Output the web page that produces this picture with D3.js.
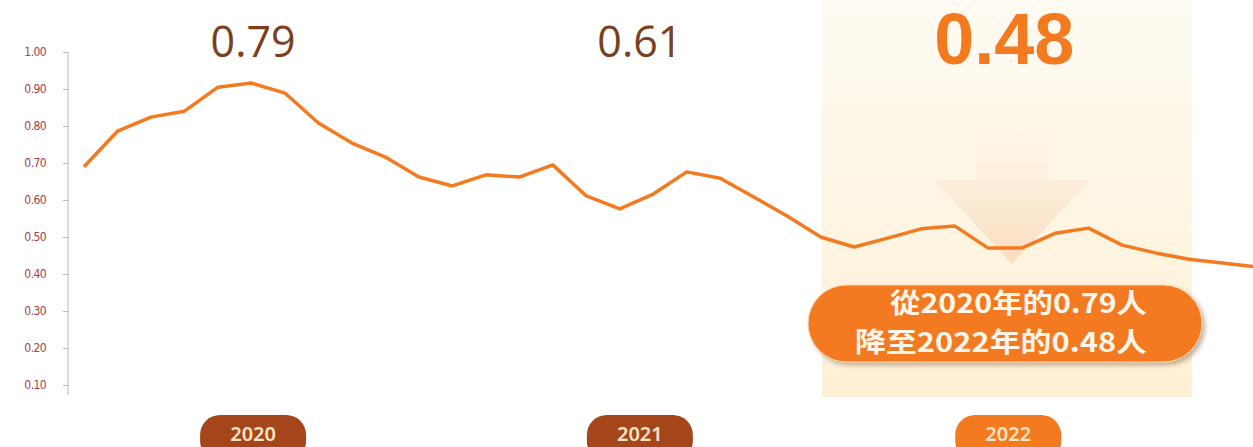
<!DOCTYPE html>
<html>
<head>
<meta charset="utf-8">
<script src="https://cdn.jsdelivr.net/npm/d3@7"></script>
<style>
  body { margin: 0; background: #fff; }
  svg { display: block; }
</style>
</head>
<body>
<svg width="1253" height="447"></svg>
<script>
// monthly values, 2020-01 .. 2022-12
var values = [0.69, 0.786, 0.824, 0.84, 0.905, 0.916, 0.889, 0.808, 0.754, 0.716, 0.662, 0.638,
              0.668, 0.662, 0.695, 0.611, 0.576, 0.616, 0.676, 0.659, 0.608, 0.557, 0.50, 0.473,
              0.497, 0.522, 0.53, 0.47, 0.47, 0.51, 0.524, 0.478, 0.457, 0.44, 0.43, 0.419];
var years = ["2020", "2021", "2022"];
var yearAvg = ["0.79", "0.61", "0.48"];
var yTicks = [0.1, 0.2, 0.3, 0.4, 0.5, 0.6, 0.7, 0.8, 0.9, 1.0];
var calloutLines = ["從2020年的0.79人", "降至2022年的0.48人"];

(function () {
  'use strict';
  var svg = d3.select('svg');
  var orange = "#f47a20";
  var brown = "#a4461a";

  var x = d3.scaleLinear().domain([0, values.length - 1]).range([84, 1256]);
  var y = d3.scaleLinear().domain([0, 1]).range([422, 52]);

  // where year badges sit (in month index units)
  var yearAt = [5.05, 16.6, 27.6];

  var defs = svg.append('defs');
  var hg = defs.append('linearGradient').attr('id', 'hl').attr('x1', 0).attr('y1', 0).attr('x2', 0).attr('y2', 1);
  hg.append('stop').attr('offset', '0%').attr('stop-color', '#fffbf3');
  hg.append('stop').attr('offset', '100%').attr('stop-color', '#fdf0d5');
  var ag = defs.append('linearGradient').attr('id', 'arr').attr('x1', 0).attr('y1', 0).attr('x2', 0).attr('y2', 1);
  ag.append('stop').attr('offset', '0%').attr('stop-color', '#fdf1e0').attr('stop-opacity', 0);
  ag.append('stop').attr('offset', '45%').attr('stop-color', '#fbe6d0').attr('stop-opacity', 0.5);
  ag.append('stop').attr('offset', '100%').attr('stop-color', '#f7d4b4').attr('stop-opacity', 0.75);
  var sh = defs.append('filter').attr('id', 'shadow').attr('x', '-10%').attr('y', '-20%').attr('width', '125%').attr('height', '150%');
  sh.append('feDropShadow').attr('dx', 3).attr('dy', 3).attr('stdDeviation', 2)
    .attr('flood-color', '#806040').attr('flood-opacity', 0.45);

  // 2022 highlight band
  svg.append('rect').attr('x', 822).attr('y', 0).attr('width', 370).attr('height', 397)
    .attr('fill', 'url(#hl)');

  // faded down arrow
  var ax = 1012;
  svg.append('path')
    .attr('d', 'M' + (ax - 36) + ',110 L' + (ax + 36) + ',110 L' + (ax + 36) + ',180 L' + (ax + 78) + ',180 L' +
      ax + ',264 L' + (ax - 78) + ',180 L' + (ax - 36) + ',180 Z')
    .attr('fill', 'url(#arr)');

  // y axis
  var yAxis = d3.axisLeft(y).tickValues(yTicks).tickFormat(d3.format('.2f')).tickSize(5).tickSizeOuter(0);
  var gy = svg.append('g').attr('transform', 'translate(68,0)').call(yAxis);
  gy.select('.domain').attr('d', 'M0,' + y(1) + 'V395').attr('stroke', '#b8b8b8');
  gy.selectAll('.tick line').attr('stroke', '#b8b8b8');
  gy.selectAll('.tick text')
    .attr('x', -22)
    .attr('fill', '#a63c4c')
    .style('font-family', '"DejaVu Sans Condensed", "DejaVu Sans", sans-serif')
    .style('font-size', '12px')
    .style('letter-spacing', '-0.6px');

  // line
  var line = d3.line().x(function (d, i) { return x(i); }).y(function (d) { return y(d); });
  svg.append('path').datum(values)
    .attr('d', line)
    .attr('fill', 'none')
    .attr('stroke', orange)
    .attr('stroke-width', 3.5)
    .attr('stroke-linejoin', 'round');

  // yearly averages on top
  svg.selectAll('.avg').data(yearAvg).enter().append('text')
    .attr('class', 'avg')
    .attr('x', function (d, i) { return i === 2 ? x(yearAt[i]) - 4 : x(yearAt[i]); })
    .attr('y', function (d, i) { return i === 2 ? 64 : 57; })
    .attr('text-anchor', 'middle')
    .attr('fill', function (d, i) { return i === 2 ? orange : '#7b3f20'; })
    .style('font-family', function (d, i) { return i === 2 ? '"Liberation Sans", Arial, sans-serif' : '"Open Sans", sans-serif'; })
    .style('font-weight', function (d, i) { return i === 2 ? 'bold' : 'normal'; })
    .style('font-size', function (d, i) { return i === 2 ? '72px' : '43px'; })
    .text(function (d) { return d; });

  // callout pill
  svg.append('rect')
    .attr('x', 808).attr('y', 285).attr('width', 394).attr('height', 77)
    .attr('rx', 38.5).attr('ry', 38.5)
    .attr('fill', orange)
    .attr('stroke', '#fbd9b4').attr('stroke-width', 1)
    .attr('filter', 'url(#shadow)');
  svg.selectAll('.call').data(calloutLines).enter().append('text')
    .attr('class', 'call')
    .attr('x', 1147)
    .attr('y', function (d, i) { return 313 + i * 39; })
    .attr('text-anchor', 'end')
    .attr('textLength', function (d, i) { return i === 0 ? 257 : 292; })
    .attr('lengthAdjust', 'spacingAndGlyphs')
    .attr('fill', '#fff6ea')
    .style('font-family', '"Noto Sans CJK TC", sans-serif')
    .style('font-weight', 'bold')
    .style('font-size', '27px')
    .text(function (d) { return d; });

  // year badges
  var badge = svg.selectAll('.yr').data(years).enter().append('g')
    .attr('class', 'yr')
    .attr('transform', function (d, i) { return 'translate(' + x(yearAt[i]) + ',0)'; });
  badge.append('rect')
    .attr('x', -53).attr('y', 415).attr('width', 106).attr('height', 46)
    .attr('rx', 20).attr('ry', 20)
    .attr('fill', function (d, i) { return i === 2 ? orange : brown; });
  badge.append('text')
    .attr('y', 441)
    .attr('text-anchor', 'middle')
    .attr('fill', '#fde4c8')
    .style('font-family', '"Noto Sans", sans-serif')
    .style('font-weight', '600')
    .style('font-size', '20px')
    .text(function (d) { return d; });
})();
</script>
</body>
</html>
